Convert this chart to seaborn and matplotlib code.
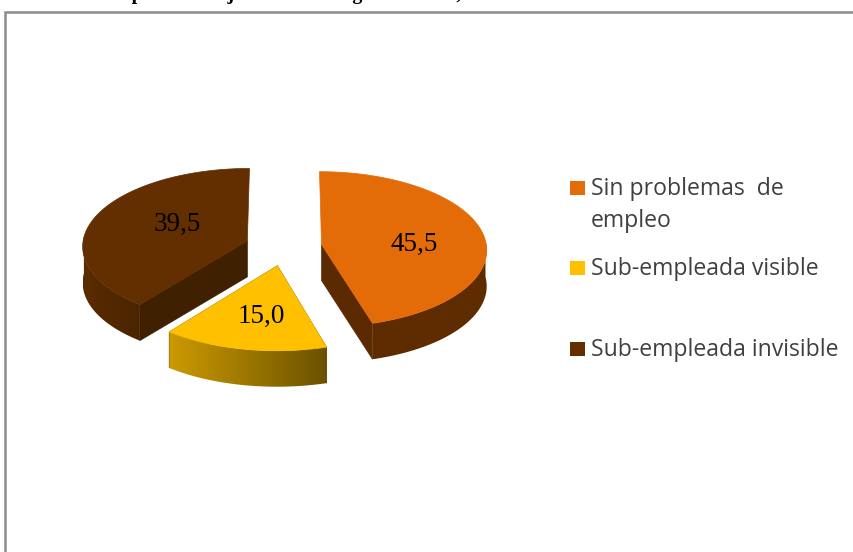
import numpy as np
import matplotlib
matplotlib.use("Agg")
import matplotlib.pyplot as plt
import matplotlib.colors as mcolors
from matplotlib.patches import Polygon, Rectangle
import seaborn as sns
sns.set_theme(style="white")

categories = ["Sin problemas  de\nempleo", "Sub-empleada visible", "Sub-empleada invisible"]
values = [45.5, 15.0, 39.5]
value_labels = ["45,5", "15,0", "39,5"]
title = "Ocupación: mujeres en una región urbana, 2010"

top_colors = ["#E36C09", "#FFC000", "#632F00"]
inner_colors = ["#5C2A00", "#5C2A00", "#3F2000"]
side_from = ["#5F2B00", "#CC9A00", "#5A2C00"]
side_to = ["#5F2B00", "#6B5200", "#4A2400"]
explode = [37, 40, 40]
label_pos = [0.56, 0.59, 0.44]
label_shift = [(2, 6), (3, 3), (-3, -6)]

CENTER = (285, 247)
RX, TILT, PERSP, DEPTH = 165, 0.47, 0.06, 36


def project(px, py):
    """Ground plane (px right, py towards viewer) to picture pixels."""
    s = 1 / (1 - PERSP * py / RX)
    return CENTER[0] + px * s, CENTER[1] + py * TILT * s


def ground(angle, r, ox, oy):
    a = np.radians(angle)
    return ox + r * RX * np.sin(a), oy - r * RX * np.cos(a)


def draw_slice(ax, start, end, i):
    mid = (start + end) / 2
    ox, oy = ground(mid, explode[i] / RX, 0, 0)
    cx, cy = project(ox, oy)
    ang = np.linspace(start, end, 200)
    x, y = project(*ground(ang, 1.0, ox, oy))

    # inner cut faces, only the ones turned towards the viewer
    for edge in [start, end]:
        ex, ey = project(*ground(edge, 1.0, ox, oy))
        if ey > cy:
            ax.add_patch(Polygon([(cx, cy), (ex, ey), (ex, ey + DEPTH), (cx, cy + DEPTH)],
                                 fc=inner_colors[i], ec=inner_colors[i], lw=0.5, zorder=2))

    # outer wall, gradient clipped to its outline
    front = np.cos(np.radians(ang)) < 0.05
    wx, wy = x[front], y[front]
    outline = list(zip(wx, wy)) + list(zip(wx[::-1], wy[::-1] + DEPTH))
    wall = Polygon(outline, fc="none", ec="none", transform=ax.transData)
    ax.add_patch(wall)
    cmap = mcolors.LinearSegmentedColormap.from_list("side", [side_from[i], side_to[i]])
    img = ax.imshow(np.linspace(0, 1, 256)[None, :], cmap=cmap, aspect="auto", zorder=3,
                    extent=(wx.min(), wx.max(), wy.max() + DEPTH, wy.min()))
    img.set_clip_path(wall)

    pts = [(cx, cy)] + list(zip(x, y))
    ax.add_patch(Polygon(pts, fc=top_colors[i], ec=top_colors[i], lw=0.5, zorder=4))

    lx, ly = project(*ground(mid, label_pos[i], ox, oy))
    ax.text(lx + label_shift[i][0], ly + label_shift[i][1], value_labels[i],
            family="Liberation Serif", fontsize=19.5,
            color="black", ha="center", va="center", zorder=5)


fig = plt.figure(figsize=(8.54, 5.52), dpi=100)
ax = fig.add_axes([0, 0, 1, 1])
ax.axis("off")

# chart frame runs off the picture on the right and at the bottom
ax.add_patch(Rectangle((5, 11.5), 900, 600, fc="white", ec="#8C8C8C", lw=1.8, zorder=1))

# the title is cut by the top of the picture, only the descenders show
ax.text(96, -1.5, title, family="Liberation Serif", fontweight="bold", fontsize=14.4,
        color="black", ha="left", va="baseline", zorder=6)

total = sum(values)
start = 0
for i, v in enumerate(values):
    end = start + v / total * 360
    draw_slice(ax, start, end, i)
    start = end

legend_y = [188, 268, 349]
for i, lab in enumerate(categories):
    ax.add_patch(Rectangle((570.5, legend_y[i] - 7.5), 14.5, 14.5, fc=top_colors[i], ec="none", zorder=5))
    ax.text(591, legend_y[i] - 11, lab, family="Open Sans", fontsize=16.6, color="#404040",
            ha="left", va="top", linespacing=1.43, zorder=5)

ax.set_xlim(0, 854)
ax.set_ylim(552, 0)
fig.savefig("out.png", dpi=100)
